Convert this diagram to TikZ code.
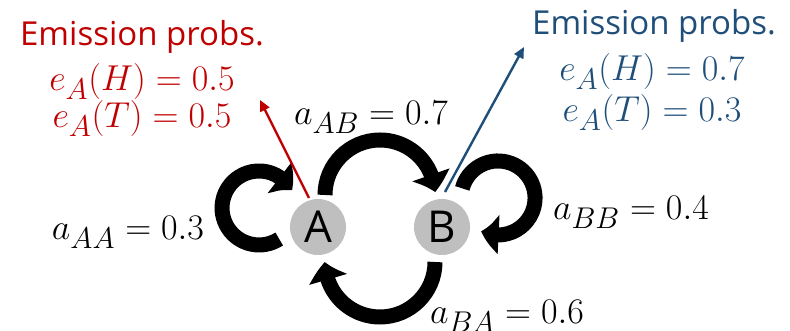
\documentclass[tikz,border=0pt]{standalone}
\usepackage{graphicx}
\usepackage{fontspec}
\newfontfamily\labfont{Open Sans}
\usetikzlibrary{arrows.meta,bending,calc}
\definecolor{embred}{HTML}{C00000}
\definecolor{embblue}{HTML}{1F4E79}
\definecolor{stategray}{HTML}{BFBFBF}
\newcommand{\bigmath}[1]{\scalebox{1.447}{\fontsize{24.88}{28}\selectfont$#1$}}
\tikzset{
  statenode/.style={circle,fill=stategray,minimum size=56pt,inner sep=0pt,
    font=\labfont\fontsize{44}{44}\selectfont},
  trans/.style={line width=15pt,-{Triangle[length=18pt,width=38pt,bend]}},
  emitarrow/.style={line width=2.4pt,-{Triangle[length=11pt,width=10pt]}},
  mathlab/.style={anchor=base,inner sep=0pt},
  titlelab/.style={anchor=base,inner sep=0pt,font=\labfont\fontsize{33}{36}\selectfont},
}
\begin{document}
\begin{tikzpicture}[x=1pt,y=1pt]
\useasboundingbox (0,0) rectangle (790,331);
\node[statenode] (A) at (318,104) {A};
\node[statenode] (B) at (442,104) {B};
\coordinate (redtip) at (260,231);
\coordinate (bluetip) at (524,284);
% transitions
\draw[trans] ($(A.center)+(7,32)$) arc[start angle=180,end angle=3,radius=55];
\draw[trans] ($(B.center)+(-7,-35)$) arc[start angle=0,end angle=-180,radius=55];
\draw[trans] ($(A.center)+(-38.8,-12)$) arc[start angle=-57,end angle=-332,radius=37];
\draw[trans] ($(B.center)+(20.3,38.6)$) arc[start angle=165,end angle=-117,radius=37];
% emission arrows
\draw[emitarrow,embred] ($(A.center)+(-9,29)$) -- (redtip);
\draw[emitarrow,embblue] ($(B.center)+(3,35)$) -- (bluetip);
% emission labels
\node[titlelab,text=embred] (rt) at (142,285) {Emission probs.};
\node[mathlab,text=embred] (rh) at (142,240) {\bigmath{e_A(H) = 0.5}};
\node[mathlab,text=embred] (rtl) at (142,203) {\bigmath{e_A(T) = 0.5}};
\node[titlelab,text=embblue] (bt) at (654,296) {Emission probs.};
\node[mathlab,text=embblue] (bh) at (652,250) {\bigmath{e_A(H) = 0.7}};
\node[mathlab,text=embblue] (btl) at (652,209) {\bigmath{e_A(T) = 0.3}};
% transition labels
\node[mathlab] (laa) at (128,91) {\bigmath{a_{AA} = 0.3}};
\node[mathlab] (lab) at (371,206) {\bigmath{a_{AB} = 0.7}};
\node[mathlab] (lbb) at (631,111) {\bigmath{a_{BB} = 0.4}};
\node[mathlab] (lba) at (507,7) {\bigmath{a_{BA} = 0.6}};
\end{tikzpicture}
\end{document}
